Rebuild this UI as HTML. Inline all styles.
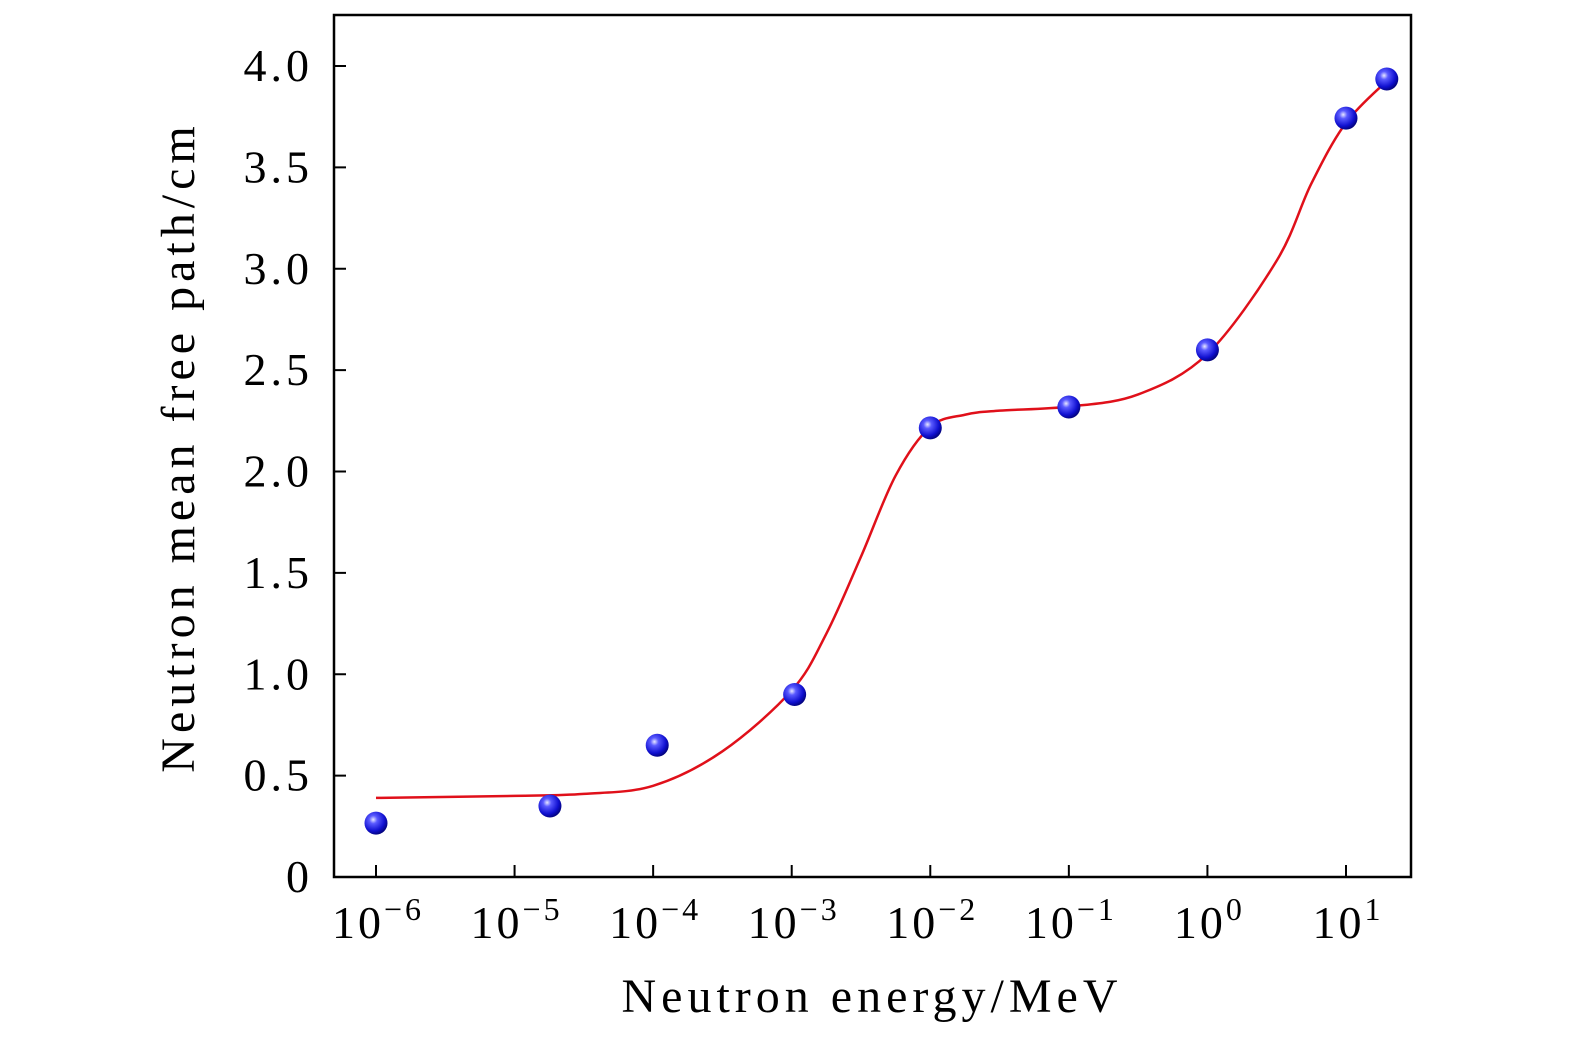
<!DOCTYPE html>
<html><head><meta charset="utf-8"><style>
html,body{margin:0;background:#fff;overflow:hidden}
svg{display:block;font-family:"Liberation Serif","DejaVu Serif",serif}
</style></head><body>
<svg id="chart" width="1575" height="1043" viewBox="0 0 1575 1043" xmlns="http://www.w3.org/2000/svg">
<defs>
<radialGradient id="ball" cx="0.38" cy="0.35" r="0.7">
<stop offset="0" stop-color="#e8e8ff"/><stop offset="0.25" stop-color="#5a5aff"/><stop offset="0.7" stop-color="#1010d0"/><stop offset="1" stop-color="#000070"/>
</radialGradient>
</defs>
<rect x="334" y="15" width="1077" height="862" fill="none" stroke="#000" stroke-width="2.5"/>
<g id="axes"></g>
<path id="fit" fill="none" stroke="#e0101a" stroke-width="2.5"/>
<g id="pts"></g>
<text x="872" y="1012" font-size="48" text-anchor="middle" letter-spacing="5">Neutron energy/MeV</text>
<text transform="translate(194,447) rotate(-90)" font-size="48" text-anchor="middle" letter-spacing="5">Neutron mean free path/cm</text>
</svg>
<script>
const xTicks=[-6,-5,-4,-3,-2,-1,0,1];
const yTicks=[0,0.5,1.0,1.5,2.0,2.5,3.0,3.5,4.0];
const yTickLabels=["0","0.5","1.0","1.5","2.0","2.5","3.0","3.5","4.0"];
const energies=[1e-6,1.8e-5,1.07e-4,1.05e-3,1e-2,1e-1,1,10,19.7];
const paths=[0.266,0.35,0.65,0.90,2.215,2.318,2.60,3.743,3.936];
const fitLogE=[-6,-5,-4.5,-4,-3.5,-3,-2.75,-2.5,-2.25,-2,-1.75,-1.5,-1,-0.5,0,0.5,0.75,1,1.3];
const fitVal=[0.39,0.40,0.41,0.45,0.62,0.92,1.20,1.58,1.98,2.22,2.28,2.30,2.32,2.38,2.58,3.04,3.42,3.72,3.93];
const X=l=>376+(l+6)*138.57;
const Y=v=>877-v*202.75;
const ns="http://www.w3.org/2000/svg";
const ax=document.getElementById('axes');
function mk(t,a,p){const e=document.createElementNS(ns,t);for(const k in a)e.setAttribute(k,a[k]);p.appendChild(e);return e;}
xTicks.forEach(t=>{
 const l=mk('line',{x1:X(t),x2:X(t),y1:877,y2:865,stroke:'#000','stroke-width':2},ax);
 
 
 const tx=mk('text',{x:X(t)+2,y:938,'font-size':46,'text-anchor':'middle','letter-spacing':3},ax);
 
 
 tx.appendChild(document.createTextNode('10'));
 const s=mk('tspan',{dy:-18,'font-size':32},tx);s.textContent=(t<0?'\u2212':'')+Math.abs(t);
});
yTicks.forEach((v,i)=>{
 const l=mk('line',{x1:334,x2:346,y1:Y(v),y2:Y(v),stroke:'#000','stroke-width':2},ax);
 
 
 const tx=mk('text',{x:313,y:Y(v)+15,'font-size':46,'text-anchor':'end','letter-spacing':4},ax);
 
 
 tx.textContent=yTickLabels[i];
});
const P=fitLogE.map((l,i)=>[X(l),Y(fitVal[i])]);
let d='M'+P[0][0]+','+P[0][1];
for(let i=0;i<P.length-1;i++){
 const p0=P[Math.max(0,i-1)],p1=P[i],p2=P[i+1],p3=P[Math.min(P.length-1,i+2)];
 d+=' C'+(p1[0]+(p2[0]-p0[0])/6)+','+(p1[1]+(p2[1]-p0[1])/6)+' '+(p2[0]-(p3[0]-p1[0])/6)+','+(p2[1]-(p3[1]-p1[1])/6)+' '+p2[0]+','+p2[1];
}
document.getElementById('fit').setAttribute('d',d);
const g=document.getElementById('pts');
energies.forEach((e,i)=>{
 const c=mk('circle',{cx:X(Math.log10(e)),cy:Y(paths[i]),r:11.5,fill:'url(#ball)'},g);
 
 
});
</script>
</body></html>
